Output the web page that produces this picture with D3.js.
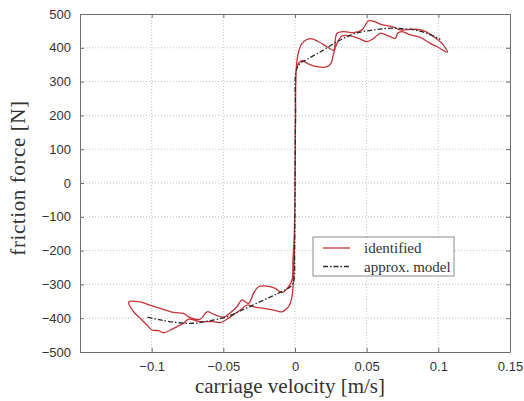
<!DOCTYPE html>
<html>
<head>
<meta charset="utf-8">
<script src="https://cdn.jsdelivr.net/npm/d3@7"></script>
<style>
  body { margin: 0; background: #fff; }
  svg { display: block; }
</style>
</head>
<body>
<div id="chart"></div>
<script>
// identified friction loop (velocity in m/s, force in N), traced once around
const idVel = [
  -0.1161, -0.1126, -0.108, -0.1033, -0.0998, -0.0952, -0.0917, -0.087, -0.0823, -0.0777,
  -0.0742, -0.0661, -0.0568, -0.0521, -0.0451, -0.0382, -0.0335, -0.0289, -0.0219, -0.0149,
  -0.0091, -0.0045, -0.0021, -0.001, -0.0005, -0.0003, 0, 0.0001, 0.0003, 0.0006,
  0.0009, 0.0025, 0.0049, 0.0095, 0.0153, 0.0223, 0.0251, 0.027, 0.0293, 0.0328,
  0.0386, 0.0444, 0.0502, 0.0549, 0.0595, 0.0653, 0.07, 0.0716, 0.0747, 0.0805,
  0.0874, 0.0944, 0.0991, 0.1063, 0.1026, 0.0967, 0.0897, 0.0828, 0.0735, 0.0688,
  0.0595, 0.056, 0.0514, 0.0468, 0.0409, 0.034, 0.0293, 0.0281, 0.027, 0.0223,
  0.0165, 0.0107, 0.0049, 0.0018, 0.0008, 0.0004, 0.0002, 0, -0.0005, -0.0014,
  -0.0021, -0.0045, -0.0091, -0.0137, -0.0195, -0.0254, -0.0289, -0.0324, -0.037, -0.0405,
  -0.0451, -0.0498, -0.0568, -0.0614, -0.0661, -0.0742, -0.0777, -0.0847, -0.094, -0.1033,
  -0.1091
];
const idForce = [
  -352, -381, -400, -420, -435, -437, -443, -435, -425, -415,
  -403, -410, -410, -413, -396, -376, -361, -366, -371, -376,
  -381, -366, -336, -277, -228, -150, -50, 100, 250, 314,
  334, 354, 362, 352, 344, 344, 354, 384, 413, 435,
  435, 428, 418, 428, 443, 435, 428, 443, 448, 438,
  431, 413, 403, 387, 413, 433, 451, 455, 453, 461,
  470, 477, 480, 453, 445, 448, 443, 423, 393, 403,
  418, 427, 413, 374, 330, 250, 100, -50, -150, -228,
  -287, -307, -324, -312, -305, -307, -326, -356, -346, -366,
  -384, -397, -388, -381, -403, -396, -386, -383, -371, -358,
  -351
];

// approximated friction model
const modelVel = [
  -0.1029, -0.094, -0.0823, -0.0708, -0.0591, -0.0475, -0.0359, -0.0242, -0.0126, -0.0033,
  -0.001, -0.0003, 0, 0.0004, 0.0009, 0.0037, 0.0084, 0.0177, 0.0293, 0.0409,
  0.0549, 0.0688, 0.0828, 0.0921, 0.1014
];
const modelForce = [
  -397, -405, -413, -415, -407, -396, -374, -351, -328, -307,
  -292, -198, 0, 200, 334, 354, 366, 388, 418, 441,
  453, 458, 453, 443, 425
];

const xTicks = [-0.1, -0.05, 0, 0.05, 0.1, 0.15];
const yTicks = [-500, -400, -300, -200, -100, 0, 100, 200, 300, 400, 500];
const legendLabels = ["identified", "approx. model"];

const width = 524, height = 401;
const margin = {top: 14, right: 14, bottom: 49, left: 80};
const innerW = width - margin.left - margin.right;
const innerH = height - margin.top - margin.bottom;

const x = d3.scaleLinear().domain([-0.15, 0.15]).range([0, innerW]);
const y = d3.scaleLinear().domain([-500, 500]).range([innerH, 0]);

const svg = d3.select("#chart").append("svg")
    .attr("width", width)
    .attr("height", height);

const g = svg.append("g")
    .attr("transform", "translate(" + margin.left + "," + margin.top + ")");

// dotted grid
g.append("g")
    .selectAll("line")
    .data(xTicks.slice(0, -1))
    .enter().append("line")
    .attr("x1", d => x(d)).attr("x2", d => x(d))
    .attr("y1", 0).attr("y2", innerH)
    .attr("stroke", "#b4b4b4")
    .attr("stroke-width", 0.8)
    .attr("stroke-dasharray", "1,2");

g.append("g")
    .selectAll("line")
    .data(yTicks.slice(1, -1))
    .enter().append("line")
    .attr("x1", 0).attr("x2", innerW)
    .attr("y1", d => y(d)).attr("y2", d => y(d))
    .attr("stroke", "#b4b4b4")
    .attr("stroke-width", 0.8)
    .attr("stroke-dasharray", "1,2");

// axes with inward ticks, labels in the matlab style
const tickFmt = d => d3.format("")(d).replace("-", "\u2212");

const xAxis = g.append("g")
    .attr("transform", "translate(0," + innerH + ")")
    .call(d3.axisBottom(x).tickValues(xTicks).tickSizeInner(-4).tickSizeOuter(0).tickPadding(10).tickFormat(tickFmt));
const yAxis = g.append("g")
    .call(d3.axisLeft(y).tickValues(yTicks).tickSizeInner(-4).tickSizeOuter(0).tickPadding(9).tickFormat(tickFmt));
g.append("g")
    .call(d3.axisTop(x).tickValues(xTicks).tickSizeInner(-4).tickSizeOuter(0).tickFormat(""));
g.append("g")
    .attr("transform", "translate(" + innerW + ",0)")
    .call(d3.axisRight(y).tickValues(yTicks).tickSizeInner(-4).tickSizeOuter(0).tickFormat(""));

g.selectAll(".domain").attr("stroke", "#6e6e6e");
g.selectAll(".tick line").attr("stroke", "#6e6e6e");
g.selectAll(".tick text")
    .attr("fill", "#333")
    .style("font-family", "'Liberation Sans', Arial, sans-serif")
    .style("font-size", "13px");

// curves
const idData = idVel.map((v, i) => [v, idForce[i]]);
const modelData = modelVel.map((v, i) => [v, modelForce[i]]);

const idLine = d3.line()
    .x(d => x(d[0])).y(d => y(d[1]))
    .curve(d3.curveCatmullRomClosed.alpha(0.5));
const modelLine = d3.line()
    .x(d => x(d[0])).y(d => y(d[1]))
    .curve(d3.curveCatmullRom.alpha(0.5));

g.append("path")
    .datum(idData)
    .attr("d", idLine)
    .attr("fill", "none")
    .attr("stroke", "#c4343a")
    .attr("stroke-width", 1.3)
    .attr("stroke-linejoin", "round");

g.append("path")
    .datum(modelData)
    .attr("d", modelLine)
    .attr("fill", "none")
    .attr("stroke", "#2a2a2a")
    .attr("stroke-width", 1.3)
    .attr("stroke-dasharray", "5,2,1.5,2");

// legend
const legend = g.append("g")
    .attr("transform", "translate(" + (313 - margin.left) + "," + (237 - margin.top) + ")");

legend.append("rect")
    .attr("width", 141)
    .attr("height", 39)
    .attr("fill", "#fff")
    .attr("stroke", "#8c8c8c")
    .attr("stroke-width", 1);

const rows = legend.selectAll("g.row")
    .data(legendLabels)
    .enter().append("g")
    .attr("class", "row")
    .attr("transform", (d, i) => "translate(0," + (11 + i * 18.5) + ")");

rows.append("line")
    .attr("x1", 10).attr("x2", 37)
    .attr("stroke", (d, i) => i === 0 ? "#c4343a" : "#2a2a2a")
    .attr("stroke-width", 1.3)
    .attr("stroke-dasharray", (d, i) => i === 0 ? null : "5,2,1.5,2");

rows.append("text")
    .attr("x", 51)
    .attr("y", 5)
    .text(d => d)
    .attr("fill", "#333")
    .style("font-family", "'Liberation Serif', 'Times New Roman', serif")
    .style("font-size", "15px");

// axis titles
svg.append("text")
    .attr("x", margin.left + innerW / 2 - 5)
    .attr("y", 393)
    .attr("text-anchor", "middle")
    .attr("fill", "#333")
    .style("font-family", "'Liberation Serif', 'Times New Roman', serif")
    .style("font-size", "21px")
    .text("carriage velocity [m/s]");

svg.append("text")
    .attr("transform", "translate(25,178) rotate(-90)")
    .attr("text-anchor", "middle")
    .attr("fill", "#333")
    .style("font-family", "'Liberation Serif', 'Times New Roman', serif")
    .style("font-size", "21px")
    .style("letter-spacing", "0.6px")
    .text("friction force [N]");
</script>
</body>
</html>
